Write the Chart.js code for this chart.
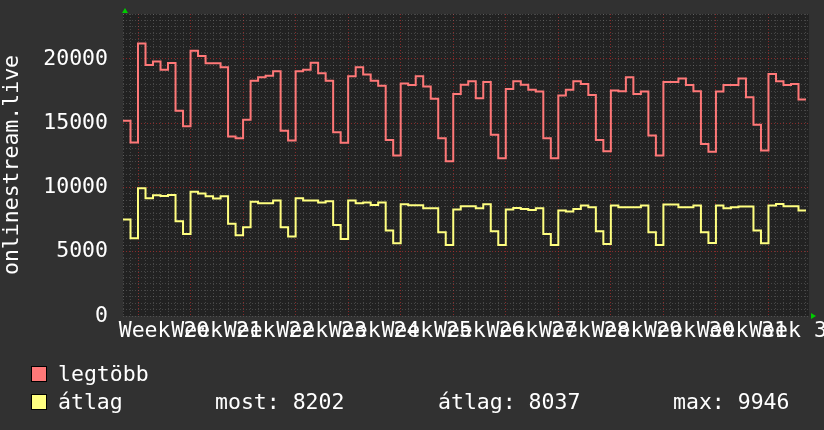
<!DOCTYPE html>
<html>
<head>
<meta charset="utf-8">
<script src="https://cdn.jsdelivr.net/npm/chart.js@4.4.1/dist/chart.umd.min.js"></script>
<style>
  body { margin: 0; background: #313131; }
  #wrap { position: relative; width: 824px; height: 430px; overflow: hidden; }
  .txt { position: absolute; font: 21.5px "DejaVu Sans Mono", monospace; color: #fff; line-height: 24px; white-space: pre; }
  .sw { position: absolute; width: 14px; height: 14px; border: 1px solid #000; }
</style>
</head>
<body>
<div id="wrap">
  <canvas id="myChart" width="824" height="430"></canvas>
  <div id="legend"></div>
</div>
<script>
// week labels, one per week, first week starts on day 2
var weekLabels = ["Week 20", "Week 21", "Week 22", "Week 23", "Week 24", "Week 25", "Week 26",
  "Week 27", "Week 28", "Week 29", "Week 30", "Week 31", "Week 32"];
var firstWeekDay = 2;

// daily values
var maxValues = [15200, 13500, 21200, 19530, 19800, 19170, 19690, 15980, 14760, 20650,
  20230, 19660, 19660, 19350, 13960, 13830, 15280, 18310, 18570, 18700,
  19040, 14420, 13650, 19040, 19170, 19710, 18880, 18310, 14300, 13490,
  18650, 19350, 18800, 18310, 17920, 13700, 12480, 18100, 17980, 18650,
  17850, 16910, 13830, 12040, 17280, 18000, 18260, 16940, 18200, 14110,
  12270, 17670, 18260, 18000, 17610, 17460, 13830, 12270, 17150, 17600,
  18260, 18050, 17200, 13700, 12820, 17540, 17480, 18570, 17280, 17460,
  14040, 12480, 18200, 18200, 18490, 17980, 17480, 13390, 12790, 17460,
  17980, 17980, 18490, 17020, 14890, 12870, 18830, 18260, 17980, 18050,
  16840];
var avgValues = [7500, 6050, 9946, 9160, 9390, 9340, 9410, 7370, 6390, 9660,
  9530, 9320, 9140, 9320, 7170, 6280, 6900, 8900, 8770, 8770,
  8980, 6900, 6180, 9160, 8980, 8980, 8830, 8930, 7090, 6000,
  8980, 8770, 8830, 8640, 8830, 6650, 5660, 8700, 8620, 8620,
  8390, 8390, 6520, 5530, 8280, 8540, 8540, 8390, 8700, 6600,
  5530, 8280, 8410, 8330, 8250, 8390, 6390, 5530, 8200, 8130,
  8330, 8590, 8460, 6600, 5610, 8590, 8460, 8460, 8460, 8590,
  6520, 5530, 8670, 8670, 8460, 8460, 8590, 6520, 5690, 8590,
  8390, 8460, 8520, 8520, 6650, 5660, 8590, 8720, 8540, 8540,
  8202];

var seriesNames = ["legtöbb", "átlag"];
var seriesColors = ["#ff7878", "#ffff80"];
var statLabels = ["most", "átlag", "max"];
var statValues = [8202, 8037, 9946];

// each value holds for one day; the last point closes the final step
function toSteps(vals) {
  var pts = vals.map(function (v, i) { return { x: i, y: v }; });
  pts.push({ x: vals.length, y: vals[vals.length - 1] });
  return pts;
}

function isWeek(v) {
  v = Math.round(v);
  return v >= firstWeekDay && (v - firstWeekDay) % 7 === 0;
}
function isMajorY(v) {
  v = Math.round(v);
  return v % 5000 === 0;
}

var minorGrid = "rgba(150,150,150,0.32)";
var majorGrid = "rgba(170,45,45,0.75)";

var plotBg = {
  id: "plotBg",
  beforeDraw: function (chart) {
    var a = chart.chartArea, c = chart.ctx;
    c.save();
    c.fillStyle = "#222222";
    c.fillRect(a.left, a.top, a.right - a.left, a.bottom - a.top);
    c.restore();
  }
};

var arrows = {
  id: "arrows",
  afterDraw: function (chart) {
    var a = chart.chartArea, c = chart.ctx;
    c.save();
    c.fillStyle = "#00cc00";
    c.beginPath();
    c.moveTo(a.left - 1, a.top - 1);
    c.lineTo(a.left + 5, a.top - 1);
    c.lineTo(a.left + 2, a.top - 6);
    c.closePath();
    c.fill();
    c.beginPath();
    c.moveTo(a.right + 2, a.bottom - 3);
    c.lineTo(a.right + 2, a.bottom + 3);
    c.lineTo(a.right + 7, a.bottom);
    c.closePath();
    c.fill();
    c.restore();
  }
};

Chart.defaults.font.family = "'DejaVu Sans Mono', monospace";
Chart.defaults.font.size = 21.5;
Chart.defaults.color = "#ffffff";

new Chart("myChart", {
  type: "line",
  data: {
    datasets: [{
      label: seriesNames[0],
      data: toSteps(maxValues),
      borderColor: seriesColors[0],
      borderWidth: 2,
      pointRadius: 0,
      stepped: "before",
      fill: false
    }, {
      label: seriesNames[1],
      data: toSteps(avgValues),
      borderColor: seriesColors[1],
      borderWidth: 2,
      pointRadius: 0,
      stepped: "before",
      fill: false
    }]
  },
  plugins: [plotBg, arrows],
  options: {
    responsive: false,
    animation: false,
    devicePixelRatio: 1,
    layout: { padding: { top: 14, right: 15, bottom: 84, left: 0 } },
    plugins: {
      legend: { display: false },
      tooltip: { enabled: false }
    },
    scales: {
      x: {
        type: "linear",
        min: 0,
        max: 91.4,
        afterFit: function (s) { s.height = 30; s.paddingLeft = 0; s.paddingRight = 0; },
        border: {
          display: false,
          dash: function (ctx) { return [1, 2]; }
        },
        grid: {
          drawTicks: false,
          lineWidth: 1,
          color: function (ctx) { return isWeek(ctx.tick.value) ? majorGrid : minorGrid; }
        },
        ticks: {
          stepSize: 1,
          autoSkip: false,
          includeBounds: false,
          maxRotation: 0,
          minRotation: 0,
          padding: 3,
          labelOffset: 26,
          callback: function (v) {
            if (!isWeek(v)) return "";
            return weekLabels[(Math.round(v) - firstWeekDay) / 7] || "";
          }
        }
      },
      y: {
        min: 0,
        max: 23500,
        afterFit: function (s) { s.width = 123; s.paddingTop = 0; s.paddingBottom = 0; },
        title: {
          display: true,
          text: "onlinestream.live",
          padding: 0
        },
        border: {
          display: false,
          dash: function (ctx) { return [1, 2]; }
        },
        grid: {
          drawTicks: false,
          lineWidth: 1,
          color: function (ctx) {
            var v = ctx.tick.value;
            return (v > 1 && v < 23000 && isMajorY(v)) ? majorGrid : minorGrid;
          }
        },
        ticks: {
          stepSize: 500,
          autoSkip: false,
          padding: 15,
          callback: function (v) { return isMajorY(v) && v < 23000 ? String(Math.round(v)) : ""; }
        }
      }
    }
  }
});

// legend rows
var lg = document.getElementById("legend");
var rowTops = [362, 390];
seriesNames.forEach(function (name, i) {
  var sw = document.createElement("div");
  sw.className = "sw";
  sw.style.left = "31px";
  sw.style.top = (rowTops[i] + 4) + "px";
  sw.style.background = seriesColors[i];
  lg.appendChild(sw);
  var t = document.createElement("div");
  t.className = "txt";
  t.style.left = "58px";
  t.style.top = rowTops[i] + "px";
  t.textContent = name;
  lg.appendChild(t);
});
var statLefts = [215, 438, 673];
statLabels.forEach(function (name, i) {
  var t = document.createElement("div");
  t.className = "txt";
  t.style.left = statLefts[i] + "px";
  t.style.top = rowTops[1] + "px";
  t.textContent = name + ": " + statValues[i];
  lg.appendChild(t);
});
</script>
</body>
</html>
